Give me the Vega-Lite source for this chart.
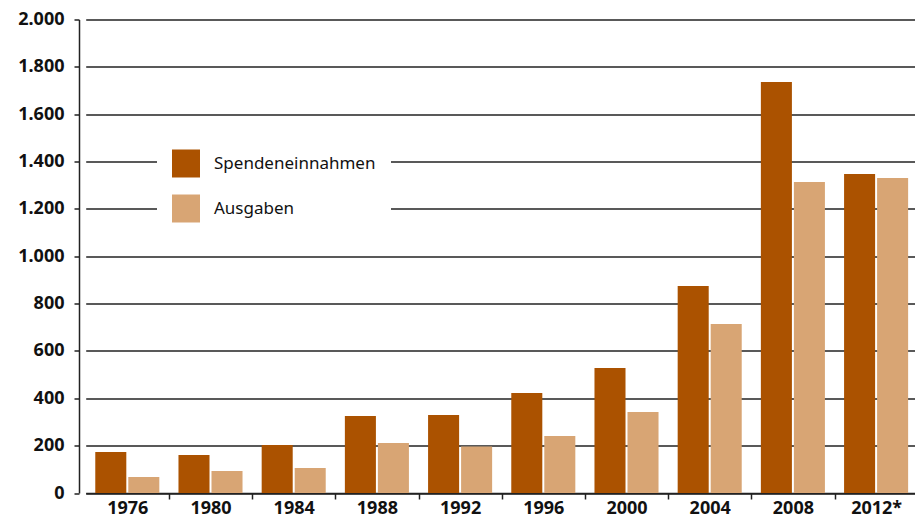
{
  "$schema": "https://vega.github.io/schema/vega-lite/v6.json",
  "autosize": "none",
  "width": 836,
  "height": 473.5,
  "padding": {"left": 79, "top": 19.5, "right": 0, "bottom": 27},
  "background": "white",
  "data": {
    "values": [
      {"jahr": "1976", "art": "Spendeneinnahmen", "wert": 173},
      {"jahr": "1976", "art": "Ausgaben", "wert": 68},
      {"jahr": "1980", "art": "Spendeneinnahmen", "wert": 160},
      {"jahr": "1980", "art": "Ausgaben", "wert": 93},
      {"jahr": "1984", "art": "Spendeneinnahmen", "wert": 203},
      {"jahr": "1984", "art": "Ausgaben", "wert": 106},
      {"jahr": "1988", "art": "Spendeneinnahmen", "wert": 325},
      {"jahr": "1988", "art": "Ausgaben", "wert": 211},
      {"jahr": "1992", "art": "Spendeneinnahmen", "wert": 329},
      {"jahr": "1992", "art": "Ausgaben", "wert": 196},
      {"jahr": "1996", "art": "Spendeneinnahmen", "wert": 422},
      {"jahr": "1996", "art": "Ausgaben", "wert": 241},
      {"jahr": "2000", "art": "Spendeneinnahmen", "wert": 528},
      {"jahr": "2000", "art": "Ausgaben", "wert": 342},
      {"jahr": "2004", "art": "Spendeneinnahmen", "wert": 874},
      {"jahr": "2004", "art": "Ausgaben", "wert": 714},
      {"jahr": "2008", "art": "Spendeneinnahmen", "wert": 1736},
      {"jahr": "2008", "art": "Ausgaben", "wert": 1314},
      {"jahr": "2012*", "art": "Spendeneinnahmen", "wert": 1347},
      {"jahr": "2012*", "art": "Ausgaben", "wert": 1330}
    ]
  },
  "mark": {"type": "bar"},
  "encoding": {
    "x": {
      "field": "jahr",
      "type": "nominal",
      "sort": null,
      "title": null,
      "scale": {"paddingInner": 0, "paddingOuter": 0, "range": [6.7, 838.7]},
      "axis": {
        "labelAngle": 0,
        "labelFont": "Noto Sans",
        "labelFontWeight": "bold",
        "labelFontSize": 18,
        "labelColor": "#111",
        "tickOffset": 41.6,
        "labelOffset": -41.6,
        "tickSize": 6,
        "tickColor": "#222",
        "tickWidth": 1.5,
        "domainColor": "#222",
        "domainWidth": 1.5,
        "labelPadding": 0,
        "grid": false
      }
    },
    "xOffset": {
      "field": "art",
      "type": "nominal",
      "sort": ["Spendeneinnahmen", "Ausgaben"],
      "scale": {"paddingInner": 0.06, "paddingOuter": 0.29}
    },
    "y": {
      "field": "wert",
      "type": "quantitative",
      "title": null,
      "scale": {"domain": [0, 2000], "nice": false},
      "axis": {
        "values": [0, 200, 400, 600, 800, 1000, 1200, 1400, 1600, 1800, 2000],
        "format": ",.0f",
        "labelFont": "Noto Sans",
        "labelFontWeight": "bold",
        "labelFontSize": 18,
        "labelColor": "#111",
        "labelPadding": 10,
        "tickSize": 5,
        "tickColor": "#222",
        "tickWidth": 1.5,
        "grid": true,
        "gridColor": "#222",
        "gridWidth": 1.5,
        "gridOpacity": 1,
        "domainColor": "#222",
        "domainWidth": 1.5
      }
    },
    "color": {
      "field": "art",
      "type": "nominal",
      "scale": {"domain": ["Spendeneinnahmen", "Ausgaben"], "range": ["#AB5200", "#D8A574"]},
      "legend": {
        "title": null,
        "orient": "none",
        "legendX": 78,
        "legendY": 115,
        "fillColor": "white",
        "padding": 15,
        "symbolType": "square",
        "symbolSize": 784,
        "symbolStrokeWidth": 0,
        "symbolOpacity": 1,
        "labelFont": "Noto Sans",
        "labelFontSize": 17,
        "labelLimit": 400,
        "labelColor": "#111",
        "labelOffset": 14,
        "rowPadding": 17
      }
    }
  },
  "config": {
    "view": {"stroke": null},
    "locale": {
      "number": {"decimal": ",", "thousands": ".", "grouping": [3], "currency": ["", " €"]}
    }
  }
}
